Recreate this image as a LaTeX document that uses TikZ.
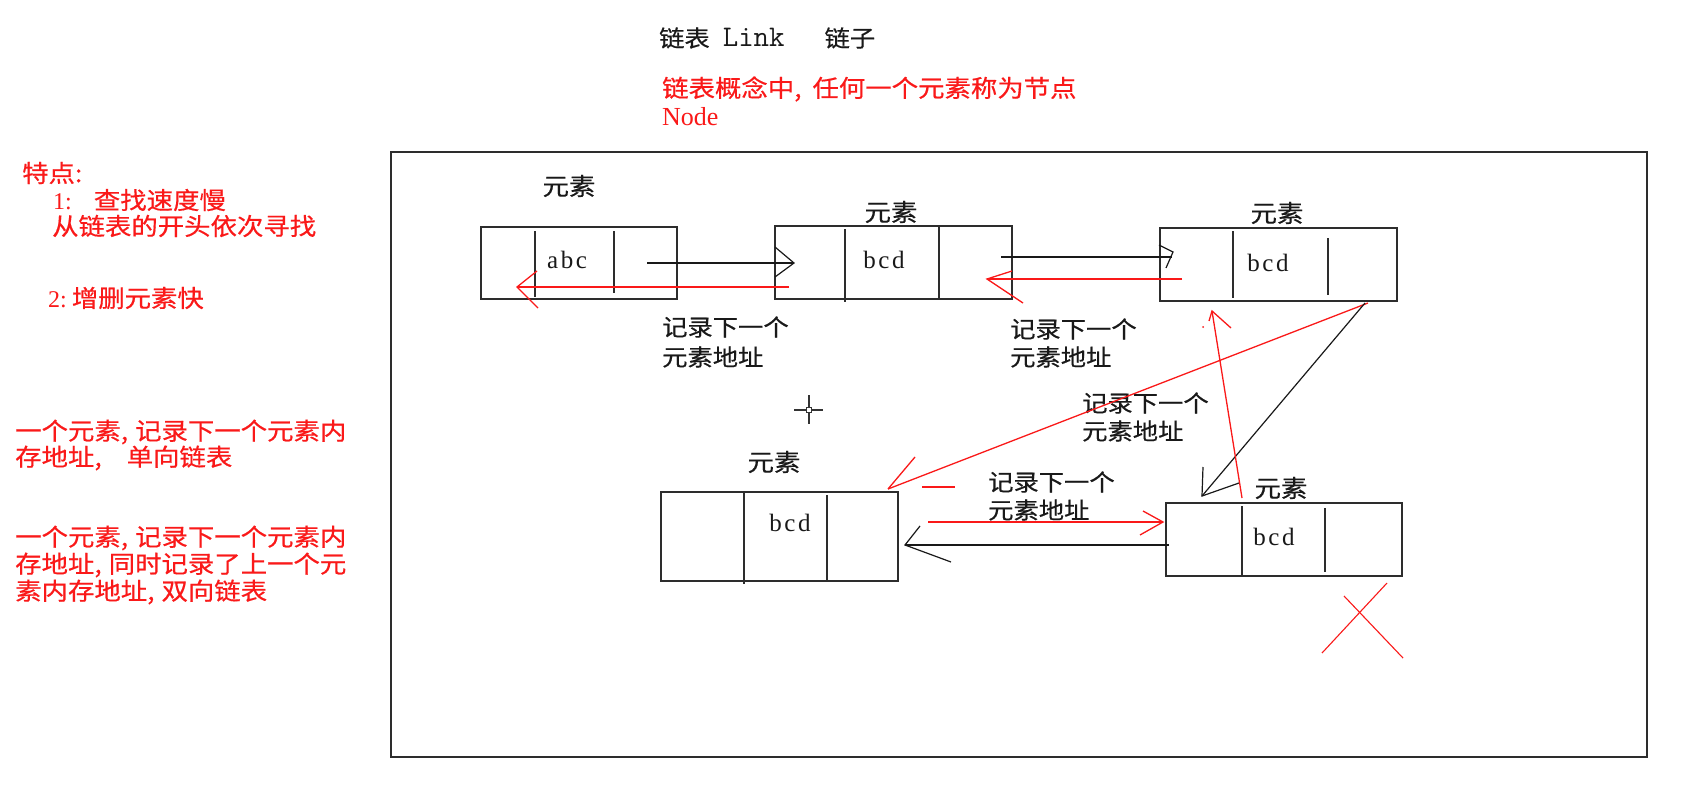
\documentclass[tikz,border=0pt]{standalone}
\usepackage{fontspec}
\setmainfont[FakeStretch=1.1, FakeBold=0.5]{Noto Sans CJK SC}
\newfontfamily\latin{Liberation Serif}
\newcommand\zc{,\hspace{7pt}}
\definecolor{myred}{RGB}{250,25,25}
\definecolor{framec}{RGB}{45,45,45}
\tikzset{
  boxc/.style={draw=framec, line width=1.8pt, inner sep=0pt},
  divl/.style={draw=framec, line width=1.4pt},
  blk/.style={draw=black!90, line width=1.2pt},
  rd/.style={draw=myred, line width=1.3pt},
  lt/.style={anchor=west, inner sep=0pt},
  ct/.style={anchor=center, inner sep=0pt},
  rtxt/.style={text=myred},
  ktxt/.style={text=black!90},
  fleft/.style={font=\fontsize{24}{24}\selectfont},
  flab/.style={font=\fontsize{23}{23}\selectfont},
  fel/.style={font=\fontsize{24}{24}\selectfont},
  flat/.style={font=\latin\fontsize{25}{25}\selectfont, anchor=base, inner sep=0pt},
}
\begin{document}
\begin{tikzpicture}[x=1pt,y=-1pt]
\useasboundingbox (0,0) rectangle (1690,795);
\fill[white] (0,0) rectangle (1690,795);

% outer frame
\node[draw=framec, line width=2pt, minimum width=1256pt, minimum height=605pt, inner sep=0pt] (frame) at (1019,454.5) {};

% titles
\node[lt, ktxt, font=\fontsize{23}{23}\selectfont] (title) at (659,38)
  {链表\hspace{13pt}{\ttfamily\fontsize{30}{30}\selectfont Link}\hspace{40pt}链子};
\node[lt, rtxt, fleft] (def1) at (662,89) {链表概念中\hspace{0pt},\hspace{11pt}任何一个元素称为节点};
\node[rtxt, font=\latin\fontsize{26}{26}\selectfont, anchor=base west, inner sep=0pt] (def2) at (662,125) {Node};

% left notes
\node[lt, rtxt, fleft] (n1) at (22,173) {特点:};
\node[lt, rtxt, fleft] (n2) at (53,200) {{\latin 1:}\hspace{22pt}查找速度慢};
\node[lt, rtxt, fleft] (n3) at (52,226) {从链表的开头依次寻找};
\node[lt, rtxt, fleft] (n4) at (48,298) {{\latin 2:}\hspace{5pt}增删元素快};
\node[lt, rtxt, fleft] (s1) at (15,432) {一个元素\zc 记录下一个元素内};
\node[lt, rtxt, fleft] (s2) at (15,458) {存地址,\hspace{25pt}单向链表};
\node[lt, rtxt, fleft] (d1) at (15,538) {一个元素\zc 记录下一个元素内};
\node[lt, rtxt, fleft] (d2) at (15,565) {存地址\zc 同时记录了上一个元};
\node[lt, rtxt, fleft] (d3) at (15,592) {素内存地址\zc 双向链表};

% boxes
\node[boxc, minimum width=196pt, minimum height=72pt] (b1) at (579,263) {};
\node[boxc, minimum width=237pt, minimum height=73pt] (b2) at (893.5,262.5) {};
\node[boxc, minimum width=237pt, minimum height=73pt] (b3) at (1278.5,264.5) {};
\node[boxc, minimum width=237pt, minimum height=89pt] (b4) at (779.5,536.5) {};
\node[boxc, minimum width=236pt, minimum height=73pt] (b5) at (1284,539.5) {};

% dividers
\draw[divl] (535,231) -- (535,297);  \draw[divl] (614,231) -- (614,293);
\draw[divl] (845,229) -- (845,302);  \draw[divl] (939,226) -- (939,299);
\draw[divl] (1233,231) -- (1233,298); \draw[divl] (1328,238) -- (1328,295);
\draw[divl] (744,492) -- (744,584);  \draw[divl] (827,495) -- (827,580);
\draw[divl] (1242,506) -- (1242,576); \draw[divl] (1325,508) -- (1325,572);

% box contents
\node[flat, ktxt] (t1) at (567,268) {a\kern2.5pt b\kern2.5pt c};
\node[flat, ktxt] (t2) at (884,268) {b\kern2.5pt c\kern2.5pt d};
\node[flat, ktxt] (t3) at (1268,271) {b\kern2.5pt c\kern2.5pt d};
\node[flat, ktxt] (t4) at (790,531) {b\kern2.5pt c\kern2.5pt d};
\node[flat, ktxt] (t5) at (1274,545) {b\kern2.5pt c\kern2.5pt d};

% element labels
\node[ct, ktxt, fel] (e1) at (569,186) {元素};
\node[ct, ktxt, fel] (e2) at (891,212) {元素};
\node[ct, ktxt, fel] (e3) at (1277,213) {元素};
\node[ct, ktxt, fel] (e4) at (774,462) {元素};
\node[ct, ktxt, fel] (e5) at (1281,488) {元素};

% address labels
\node[lt, ktxt, flab] (l1a) at (662,327) {记录下一个};
\node[lt, ktxt, flab] (l1b) at (662,357) {元素地址};
\node[lt, ktxt, flab] (l2a) at (1010,329) {记录下一个};
\node[lt, ktxt, flab] (l2b) at (1010,357) {元素地址};
\node[lt, ktxt, flab] (l3a) at (1082,403) {记录下一个};
\node[lt, ktxt, flab] (l3b) at (1082,431) {元素地址};
\node[lt, ktxt, flab] (l4a) at (988,482) {记录下一个};
\node[lt, ktxt, flab] (l4b) at (988,510) {元素地址};

% connector end points
\coordinate (a1s) at (647,263);  \coordinate (a1e) at (794,263);
\coordinate (a1u) at (775,247);  \coordinate (a1d) at (775,277);
\coordinate (a2s) at (789,287);  \coordinate (a2e) at (517,287);
\coordinate (a2u) at (537,271);  \coordinate (a2d) at (538,308);
\coordinate (a3s) at (1001,257); \coordinate (a3e) at (1172,257);
\coordinate (a3t) at (1173,252); \coordinate (a3u) at (1159,245); \coordinate (a3d) at (1166,268);
\coordinate (a4s) at (1182,279); \coordinate (a4e) at (987,279);
\coordinate (a4u) at (1012,271); \coordinate (a4d) at (1023,303);
\coordinate (a5s) at (1368,303); \coordinate (a5e) at (888,489);
\coordinate (a5u) at (915,457);  \coordinate (a5da) at (922,487); \coordinate (a5db) at (955,487);
\coordinate (a6s) at (1365,303); \coordinate (a6e) at (1202,496);
\coordinate (a6u) at (1203,467); \coordinate (a6d) at (1239,483);
\coordinate (a7s) at (1242,498); \coordinate (a7e) at (1212,311);
\coordinate (a7r) at (1231,328); \coordinate (a7l) at (1209,321);
\coordinate (a8s) at (928,522);  \coordinate (a8e) at (1163,522);
\coordinate (a8u) at (1143,511); \coordinate (a8d) at (1140,535);
\coordinate (a9s) at (1169,545); \coordinate (a9e) at (905,545);
\coordinate (a9u) at (920,526);  \coordinate (a9d) at (951,562);

% connectors
\draw[blk] (a1s) -- (a1e);  \draw[blk] (a1u) -- (a1e) -- (a1d);
\draw[rd] (a2s) -- (a2e);   \draw[rd] (a2u) -- (a2e) -- (a2d);
\draw[blk] (a3s) -- (a3e);  \draw[blk] (a3u) -- (a3t) -- (a3d);
\draw[rd] (a4s) -- (a4e);   \draw[rd] (a4u) -- (a4e) -- (a4d);
\draw[rd] (a5s) -- (a5e);   \draw[rd] (a5e) -- (a5u); \draw[rd] (a5da) -- (a5db);
\draw[blk] (a6s) -- (a6e);  \draw[blk] (a6u) -- (a6e) -- (a6d);
\draw[rd] (a7s) -- (a7e);   \draw[rd] (a7l) -- (a7e) -- (a7r);
\fill[myred] (1203,327) circle (1pt);
\draw[rd] (a8s) -- (a8e);   \draw[rd] (a8u) -- (a8e) -- (a8d);
\draw[blk] (a9s) -- (a9e);  \draw[blk] (a9u) -- (a9e) -- (a9d);

% red cross
\coordinate (x1a) at (1322,653); \coordinate (x1b) at (1387,583);
\coordinate (x2a) at (1344,596); \coordinate (x2b) at (1403,658);
\draw[rd, line width=1.1pt] (x1a) -- (x1b);
\draw[rd, line width=1.1pt] (x2a) -- (x2b);

% cursor crosshair
\coordinate (cc) at (809,410);
\draw[black!80, line width=1.5pt] (794,410) -- (806,410) (812,410) -- (823,410)
  (809,395) -- (809,407) (809,413) -- (809,424);
\draw[black!80, line width=1pt] (806.5,407.5) rectangle (811.5,412.5);
\end{tikzpicture}
\end{document}
